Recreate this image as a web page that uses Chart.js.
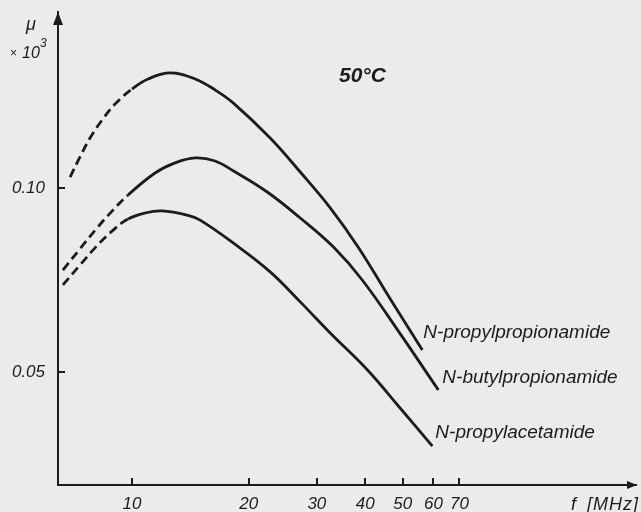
<!DOCTYPE html>
<html>
<head>
<meta charset="utf-8">
<script src="https://cdn.jsdelivr.net/npm/chart.js@4.4.1/dist/chart.umd.min.js"></script>
<style>
    html, body { margin: 0; padding: 0; background: #ebebe9; }
    canvas { display: block; }
</style>
</head>
<body>
<canvas id="chart" width="641" height="512"></canvas>
<script>
// frequency f [MHz] and mu (x10^3)
const seriesNames = ['N-propylpropionamide', 'N-butylpropionamide', 'N-propylacetamide'];

const freqPropylPropionamide = [6.92, 7.34, 7.79, 8.37, 9.04, 10.0, 11.0, 12.54, 14.55, 16.38, 18.24, 22.73, 27.18, 32.48, 38.37, 46.42, 56.16];
const muPropylPropionamide   = [0.1042, 0.1124, 0.1207, 0.1292, 0.1372, 0.1452, 0.1508, 0.1543, 0.1508, 0.1447, 0.1378, 0.1207, 0.1062, 0.0928, 0.0800, 0.0658, 0.0543];

const freqButylPropionamide = [6.63, 7.34, 8.12, 8.93, 9.77, 11.47, 12.91, 14.55, 16.38, 18.24, 22.34, 27.18, 33.07, 39.29, 49.26, 61.78];
const muButylPropionamide   = [0.0734, 0.0795, 0.0860, 0.0920, 0.0974, 0.1058, 0.1099, 0.1120, 0.1107, 0.1067, 0.0985, 0.0893, 0.0801, 0.0707, 0.0577, 0.0467];

const freqPropylAcetamide = [6.63, 7.34, 8.07, 8.88, 9.77, 10.80, 11.95, 13.95, 14.99, 18.24, 22.73, 27.18, 32.48, 40.48, 49.26, 59.61];
const muPropylAcetamide   = [0.0694, 0.0748, 0.0801, 0.0850, 0.0890, 0.0910, 0.0917, 0.0902, 0.0886, 0.0813, 0.0729, 0.0651, 0.0579, 0.0504, 0.0436, 0.0378];

// below these frequencies the curves are drawn dashed
const dashedBelow = [10.0, 9.77, 9.77];

const xTickValues = [10, 20, 30, 40, 50, 60, 70];
const yTickValues = [0.05, 0.10];

const INK = '#1c1c1c';
const FONT = '"Liberation Sans", Arial, sans-serif';

// label offset from the last point of each curve
const labelOffsets = [[1, -17], [4, -12], [3, -13]];

function toPoints(xs, ys) {
    return xs.map((v, i) => ({ x: v, y: ys[i] }));
}

const curves = [
    toPoints(freqPropylPropionamide, muPropylPropionamide),
    toPoints(freqButylPropionamide, muButylPropionamide),
    toPoints(freqPropylAcetamide, muPropylAcetamide)
];

const decorations = {
    id: 'decorations',
    afterDraw(chart) {
        const { ctx, chartArea: a, scales: { x, y } } = chart;
        ctx.save();
        ctx.strokeStyle = INK;
        ctx.fillStyle = INK;
        ctx.lineWidth = 2;

        // tick marks pointing into the plot
        ctx.beginPath();
        xTickValues.forEach(v => {
            const px = Math.round(x.getPixelForValue(v));
            ctx.moveTo(px, a.bottom);
            ctx.lineTo(px, a.bottom - 7);
        });
        yTickValues.forEach(v => {
            const py = Math.round(y.getPixelForValue(v));
            ctx.moveTo(a.left, py);
            ctx.lineTo(a.left + 7, py);
        });
        ctx.stroke();

        // axis arrows
        ctx.beginPath();
        ctx.moveTo(a.left, a.top);
        ctx.lineTo(a.left - 5, a.top + 13);
        ctx.lineTo(a.left + 5, a.top + 13);
        ctx.closePath();
        ctx.fill();
        ctx.beginPath();
        ctx.moveTo(a.right + 1, a.bottom);
        ctx.lineTo(a.right - 9, a.bottom - 4);
        ctx.lineTo(a.right - 9, a.bottom + 4);
        ctx.closePath();
        ctx.fill();

        // axis titles
        ctx.textBaseline = 'alphabetic';
        ctx.textAlign = 'center';
        ctx.font = 'italic 18px ' + FONT;
        ctx.fillText('μ', 31, 30);
        ctx.textAlign = 'left';
        ctx.font = '12px ' + FONT;
        ctx.fillText('×', 10, 57);
        ctx.font = 'italic 16px ' + FONT;
        ctx.fillText('10', 22, 58);
        ctx.font = 'italic 12px ' + FONT;
        ctx.fillText('3', 40, 47);

        ctx.font = 'italic 18px ' + FONT;
        ctx.fillText('f', 571, 510);
        ctx.textAlign = 'right';
        ctx.letterSpacing = '1px';
        ctx.fillText('[MHz]', 639, 510);
        ctx.letterSpacing = '0px';

        // temperature
        ctx.textAlign = 'left';
        ctx.font = 'italic 600 21px ' + FONT;
        ctx.fillText('50°C', 339, 82);

        // curve names near the end of each curve
        ctx.font = 'italic 19px ' + FONT;
        ctx.textBaseline = 'middle';
        chart.data.datasets.forEach((ds, i) => {
            const last = ds.data[ds.data.length - 1];
            const px = x.getPixelForValue(last.x) + labelOffsets[i][0];
            const py = y.getPixelForValue(last.y) + labelOffsets[i][1];
            ctx.fillText(ds.label, px, py);
        });
        ctx.restore();
    }
};

new Chart(document.getElementById('chart'), {
    type: 'line',
    data: {
        datasets: curves.map((pts, i) => ({
            label: seriesNames[i],
            data: pts,
            borderColor: INK,
            borderWidth: 2.8,
            pointRadius: 0,
            fill: false,
            tension: 0.4,
            segment: {
                borderDash: ctx => ctx.p1.parsed.x <= dashedBelow[i] ? [9, 5] : undefined
            }
        }))
    },
    options: {
        responsive: false,
        animation: false,
        events: [],
        layout: { padding: { left: 0, top: 12, right: 5, bottom: 0 } },
        plugins: {
            legend: { display: false },
            tooltip: { enabled: false }
        },
        scales: {
            x: {
                type: 'logarithmic',
                min: 6.44,
                max: 200,
                afterBuildTicks: scale => { scale.ticks = xTickValues.map(v => ({ value: v })); },
                afterFit: scale => {
                    scale.height = 27;
                    scale.paddingLeft = 0;
                    scale.paddingRight = 0;
                },
                grid: { display: false, drawTicks: false },
                border: { display: true, color: INK, width: 2 },
                ticks: {
                    autoSkip: false,
                    maxRotation: 0,
                    padding: 9,
                    color: INK,
                    font: { family: FONT, size: 17, style: 'italic' },
                    callback: v => String(v)
                }
            },
            y: {
                type: 'logarithmic',
                min: 0.03265,
                max: 0.1941,
                afterBuildTicks: scale => { scale.ticks = yTickValues.map(v => ({ value: v })); },
                afterFit: scale => {
                    scale.width = 58;
                    scale.paddingTop = 0;
                    scale.paddingBottom = 0;
                },
                grid: { display: false, drawTicks: false },
                border: { display: true, color: INK, width: 2 },
                ticks: {
                    autoSkip: false,
                    padding: 13,
                    color: INK,
                    font: { family: FONT, size: 17, style: 'italic' },
                    callback: v => v.toFixed(2)
                }
            }
        }
    },
    plugins: [decorations]
});
</script>
</body>
</html>
